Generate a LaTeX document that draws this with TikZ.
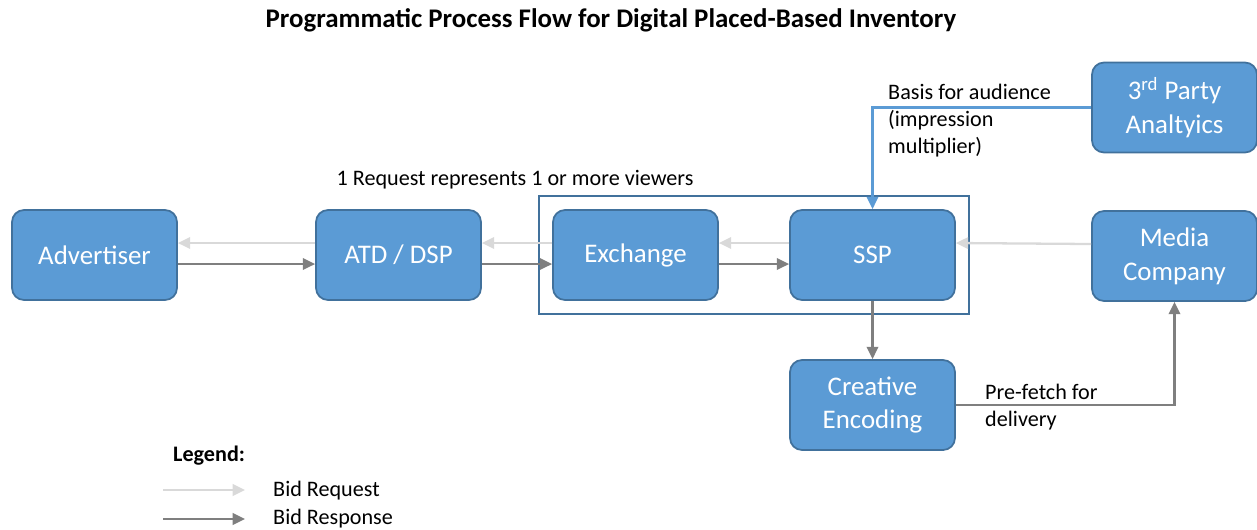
\documentclass[tikz,border=0pt]{standalone}
\usepackage{fontspec}
\setmainfont{Carlito}
\usepackage{tikz}
\usetikzlibrary{arrows.meta, fit}

\definecolor{boxfill}{HTML}{5B9BD5}
\definecolor{boxline}{HTML}{41719C}
\definecolor{reqgray}{HTML}{D9D9D9}
\definecolor{respgray}{HTML}{7F7F7F}

\begin{document}
\begin{tikzpicture}[x=0.02cm, y=-0.02cm,
    block/.style={draw=boxline, line width=1pt, fill=boxfill, rounded corners=0.24cm,
        minimum width=3.3cm, minimum height=1.8cm, text=white, align=center,
        font=\fontsize{15.3}{19.3}\selectfont},
    request/.style={draw=reqgray, line width=1.3pt, -{Triangle[length=7pt, width=6.5pt]}},
    response/.style={draw=respgray, line width=1.3pt, -{Triangle[length=7pt, width=6.5pt]}},
    audience/.style={draw=boxfill, line width=1.3pt, -{Triangle[length=7pt, width=6.5pt]}},
    label/.style={font=\fontsize{12.6}{15.3}\selectfont, align=left}]
            \useasboundingbox (0,0) rectangle (1257,529);
            \node (title) at (611,20) {\fontsize{15.3}{18}\selectfont\bfseries Programmatic Process Flow for Digital Placed-Based Inventory};
            \node[block] (adv) at (94.5,255) {Advertiser};
            \node[block] (atd) at (398.5,255) {ATD / DSP};
            \node[block] (exch) at (635.5,255) {Exchange};
            \node[block] (ssp) at (872.5,255) {SSP};
            \node[block] (media) at (1174.5,256) {Media\\Company};
            \node[block] (third) at (1174.5,107.5) {3\textsuperscript{rd} Party\\Analtyics};
            \node[block] (creative) at (872.5,405) {Creative\\Encoding};
            \node[draw=boxline, line width=0.8pt, inner sep=0.26cm, fit=(exch)(ssp)] (grp) {};
            \draw[request] ([yshift=0.24cm]atd.west) -- ([yshift=0.24cm]adv.east);
            \draw[request] ([yshift=0.24cm]exch.west) -- ([yshift=0.24cm]atd.east);
            \draw[request] ([yshift=0.24cm]ssp.west) -- ([yshift=0.24cm]exch.east);
            \draw[request] ([yshift=0.24cm]media.west) -- ([yshift=0.24cm]ssp.east);
            \draw[response] ([yshift=-0.18cm]adv.east) -- ([yshift=-0.18cm]atd.west);
            \draw[response] ([yshift=-0.18cm]atd.east) -- ([yshift=-0.18cm]exch.west);
            \draw[response] ([yshift=-0.18cm]exch.east) -- ([yshift=-0.18cm]ssp.west);
            \draw[response] (ssp.south) -- (creative.north);
            \draw[response] (creative.east) -| (media.south);
            \draw[audience] (third.west) -| (ssp.north);
            \node[label, anchor=north west] (basis) at (882,78) {Basis for audience\\(impression\\multiplier)};
            \node[label] (viewers) at (515,180) {1 Request represents 1 or more viewers};
            \node[label, anchor=north west] (prefetch) at (979,378) {Pre-fetch for\\delivery};
            \node[label, anchor=west] (legend) at (167,456) {\bfseries Legend:};
            \coordinate (reqa) at (163,490);
            \coordinate (reqb) at (245,490);
            \coordinate (respa) at (163,519);
            \coordinate (respb) at (245,519);
            \draw[request] (reqa) -- (reqb);
            \draw[response] (respa) -- (respb);
            \node[label, anchor=west] (bidreq) at (267,491) {Bid Request};
            \node[label, anchor=west] (bidresp) at (267,519) {Bid Response};
        \end{tikzpicture}
\end{document}
